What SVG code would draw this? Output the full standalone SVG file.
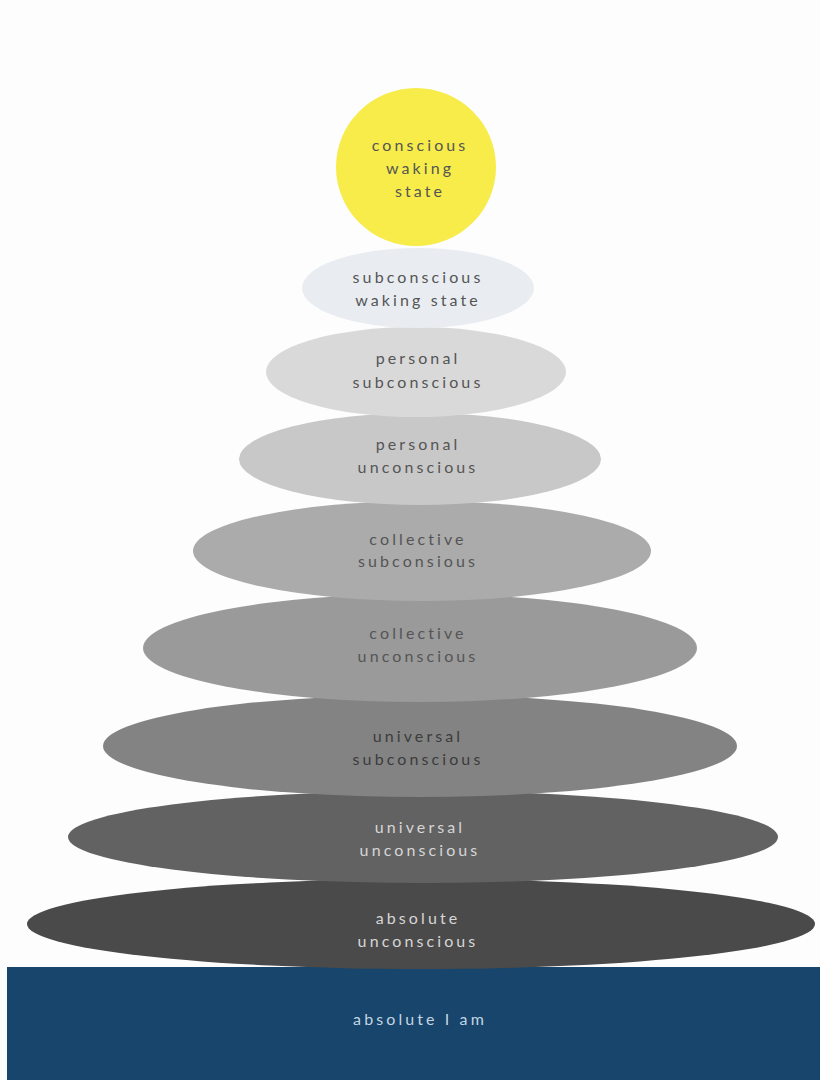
<svg xmlns="http://www.w3.org/2000/svg" width="820" height="1080" viewBox="0 0 820 1080">
<style>
text{font-family:Lato,"Open Sans","Liberation Sans",sans-serif;font-size:16px;letter-spacing:3.1px;text-anchor:middle}
.d{fill:#555}
.m{fill:#3c3c3c}
.l{fill:#d6d6d6}
.b{fill:#c4d4e2}
</style>
<rect x="0" y="0" width="820" height="1080" fill="#fdfdfd"/>
<g id="base">
<rect x="7" y="967" width="813" height="113" fill="#17456b"/>
<text class="b" x="420" y="1025">absolute I am</text>
</g>
<g id="absolute-unconscious">
<ellipse cx="421" cy="924" rx="394" ry="45" fill="#4a4a4a"/>
<text class="l" x="418" y="924">absolute</text>
<text class="l" x="418" y="947">unconscious</text>
</g>
<g id="universal-unconscious">
<ellipse cx="423" cy="837" rx="355" ry="46" fill="#626262"/>
<text class="l" x="420" y="833">universal</text>
<text class="l" x="420" y="856">unconscious</text>
</g>
<g id="universal-subconscious">
<ellipse cx="420" cy="746" rx="317" ry="51" fill="#838383"/>
<text class="m" x="418" y="742">universal</text>
<text class="m" x="418" y="765">subconscious</text>
</g>
<g id="collective-unconscious">
<ellipse cx="420" cy="648" rx="277" ry="54" fill="#9a9a9a"/>
<text class="d" x="418" y="639">collective</text>
<text class="d" x="418" y="662">unconscious</text>
</g>
<g id="collective-subconscious">
<ellipse cx="422" cy="551" rx="229" ry="50" fill="#ababab"/>
<text class="d" x="418" y="545">collective</text>
<text class="d" x="418" y="567">subconsious</text>
</g>
<g id="personal-unconscious">
<ellipse cx="420" cy="459" rx="181" ry="46" fill="#c8c8c8"/>
<text class="d" x="418" y="450">personal</text>
<text class="d" x="418" y="473">unconscious</text>
</g>
<g id="personal-subconscious">
<ellipse cx="416" cy="372" rx="150" ry="45" fill="#d9d9d9"/>
<text class="d" x="418" y="364">personal</text>
<text class="d" x="418" y="388">subconscious</text>
</g>
<g id="subconscious-waking-state">
<ellipse cx="418" cy="288" rx="116" ry="40" fill="#e9edf1"/>
<text class="d" x="418" y="283">subconscious</text>
<text class="d" x="418" y="306">waking state</text>
</g>
<g id="conscious-waking-state">
<ellipse cx="416" cy="167" rx="80" ry="79" fill="#f7ec4a"/>
<text class="d" x="420" y="151">conscious</text>
<text class="d" x="420" y="174">waking</text>
<text class="d" x="420" y="197">state</text>
</g>
</svg>
